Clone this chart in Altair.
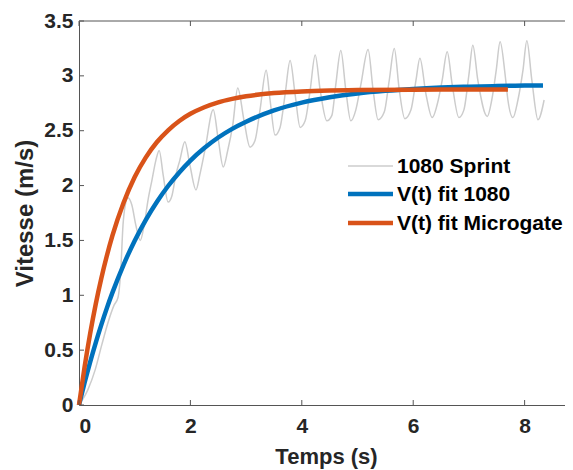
import altair as alt
import pandas as pd

# ---------------- data ----------------
series_names = ["1080 Sprint", "V(t) fit 1080", "V(t) fit Microgate"]
series_colors = ["#cccccc", "#0072BD", "#D95319"]

sprint_t = [0, 0.16, 0.29, 0.41, 0.52, 0.63, 0.70, 0.75, 0.79, 0.83, 0.88, 0.95, 1.02, 1.10,
            1.17, 1.24, 1.31, 1.38, 1.44, 1.51, 1.60, 1.67, 1.74, 1.81, 1.90, 1.99, 2.10, 2.17,
            2.26, 2.41, 2.50, 2.59, 2.67, 2.76, 2.85, 2.96, 3.07, 3.16, 3.25, 3.36, 3.43, 3.52,
            3.61, 3.70, 3.79, 3.88, 3.97, 4.06, 4.15, 4.24, 4.33, 4.45, 4.54, 4.61, 4.70, 4.79,
            4.88, 4.97, 5.06, 5.19, 5.28, 5.37, 5.48, 5.57, 5.66, 5.75, 5.85, 5.96, 6.05, 6.12,
            6.23, 6.34, 6.45, 6.52, 6.61, 6.70, 6.82, 6.91, 7.00, 7.07, 7.16, 7.33, 7.41, 7.49,
            7.56, 7.65, 7.70, 7.79, 7.88, 7.97, 8.04, 8.13, 8.24, 8.35]
sprint_v = [0, 0.14, 0.32, 0.55, 0.75, 0.91, 0.98, 1.23, 1.64, 1.82, 1.89, 1.82, 1.64, 1.50,
            1.64, 1.87, 2.05, 2.23, 2.32, 2.10, 1.85, 1.91, 2.10, 2.23, 2.40, 2.19, 1.96, 2.10,
            2.32, 2.69, 2.42, 2.17, 2.32, 2.55, 2.89, 2.60, 2.35, 2.41, 2.69, 3.05, 2.78, 2.46,
            2.53, 2.83, 3.14, 2.83, 2.53, 2.59, 2.87, 3.19, 2.87, 2.59, 2.64, 2.92, 3.23, 2.87,
            2.59, 2.69, 2.92, 3.24, 2.87, 2.60, 2.67, 2.96, 3.25, 2.87, 2.61, 2.69, 2.96, 3.16,
            2.83, 2.62, 2.78, 2.96, 3.22, 2.92, 2.62, 2.69, 3.01, 3.28, 2.96, 2.63, 2.78, 3.05,
            3.31, 3.01, 2.78, 2.62, 2.78, 3.05, 3.32, 2.96, 2.60, 2.78]

fit1080_t = [0, 0.1, 0.2, 0.3, 0.4, 0.5, 0.6, 0.8, 1.0, 1.2, 1.4, 1.6, 1.8, 2.0, 2.25, 2.5,
             2.75, 3.0, 3.5, 4.0, 4.5, 5.0, 5.5, 6.0, 6.5, 7.0, 7.5, 8.0, 8.33]
fit1080_v = [0, 0.203, 0.391, 0.567, 0.730, 0.883, 1.024, 1.278, 1.498, 1.688, 1.853, 1.996,
             2.120, 2.228, 2.342, 2.438, 2.517, 2.582, 2.685, 2.756, 2.805, 2.840, 2.864, 2.881,
             2.893, 2.901, 2.907, 2.911, 2.913]

fitmg_t = [0, 0.1, 0.2, 0.3, 0.4, 0.5, 0.6, 0.8, 1.0, 1.2, 1.4, 1.6, 1.8, 2.0, 2.25, 2.5,
           2.75, 3.0, 3.5, 4.0, 4.5, 5.0, 6.0, 7.0, 7.7]
fitmg_v = [0, 0.345, 0.650, 0.918, 1.153, 1.360, 1.543, 1.843, 2.078, 2.257, 2.397, 2.504,
           2.589, 2.654, 2.714, 2.759, 2.790, 2.814, 2.843, 2.858, 2.866, 2.870, 2.874, 2.875,
           2.875]

x_ticks = [0, 2, 4, 6, 8]
y_ticks = [0, 0.5, 1, 1.5, 2, 2.5, 3, 3.5]

# ---------------- tables ----------------
df_sprint = pd.DataFrame({"t": sprint_t, "v": sprint_v})
df_1080 = pd.DataFrame({"t": fit1080_t, "v": fit1080_v})
df_mg = pd.DataFrame({"t": fitmg_t, "v": fitmg_v})
df_xt = pd.DataFrame({"t": x_ticks})
df_yt = pd.DataFrame({"v": y_ticks})

W, H = 486, 384
FONT = "Liberation Sans"
AX = "#555555"
TXT = "#262626"

xscale = alt.Scale(domain=[0, 8.725], nice=False, zero=False)
yscale = alt.Scale(domain=[0, 3.5], nice=False, zero=False)

xaxis = alt.Axis(values=x_ticks, title="Temps (s)", grid=False, tickSize=0,
                 domainColor=AX, domainWidth=1, labelFontSize=21, labelFontWeight="bold",
                 labelColor=TXT, labelPadding=10, labelFont=FONT,
                 titleFont=FONT, titleFontSize=22, titleFontWeight="bold", titleColor=TXT,
                 titleX=247, titleY=58, titleBaseline="alphabetic")
yaxis = alt.Axis(values=y_ticks, title="Vitesse (m/s)", grid=False, tickSize=0,
                 domainColor=AX, domainWidth=1, labelFontSize=21, labelFontWeight="bold",
                 labelColor=TXT, labelPadding=6, labelFont=FONT,
                 labelExpr="'' + datum.value",
                 titleFont=FONT, titleFontSize=24, titleFontWeight="bold", titleColor=TXT,
                 titleX=-47, titleBaseline="alphabetic")

X = alt.X("t:Q", scale=xscale, axis=xaxis)
Y = alt.Y("v:Q", scale=yscale, axis=yaxis)

sprint = alt.Chart(df_sprint).mark_line(color=series_colors[0], strokeWidth=1.5,
                                         interpolate="monotone").encode(x=X, y=Y)
fit1080 = alt.Chart(df_1080).mark_line(color=series_colors[1], strokeWidth=4.5,
                                       interpolate="monotone").encode(x=X, y=Y)
fitmg = alt.Chart(df_mg).mark_line(color=series_colors[2], strokeWidth=4.5,
                                   interpolate="monotone").encode(x=X, y=Y)

# inward MATLAB-style ticks and top box line
xt_bottom = alt.Chart(df_xt).mark_rule(color=AX, strokeWidth=1).encode(
    x=X, y=alt.value(H), y2=alt.value(H - 5))
xt_top = alt.Chart(df_xt).mark_rule(color=AX, strokeWidth=1).encode(
    x=X, y=alt.value(0), y2=alt.value(5))
yt_left = alt.Chart(df_yt).mark_rule(color=AX, strokeWidth=1).encode(
    y=Y, x=alt.value(0), x2=alt.value(5))
top_line = alt.Chart(pd.DataFrame({"a": [0]})).mark_rule(color=AX, strokeWidth=1).encode(
    x=alt.value(0), x2=alt.value(W), y=alt.value(0))

# legend (drawn manually)
legend_layers = []
row_y = [145, 173, 202]
row_w = [1.5, 4.5, 4.5]
for name, col, yy, sw in zip(series_names, series_colors, row_y, row_w):
    d = pd.DataFrame({"label": [name]})
    legend_layers.append(
        alt.Chart(d).mark_rule(color=col, strokeWidth=sw).encode(
            x=alt.value(269), x2=alt.value(314), y=alt.value(yy)))
    legend_layers.append(
        alt.Chart(d).mark_text(align="left", baseline="middle", font=FONT, fontSize=21,
                               fontWeight="bold", color="#000000").encode(
            x=alt.value(318), y=alt.value(yy + 1), text="label:N"))

chart = alt.layer(
    sprint, fit1080, fitmg, xt_bottom, xt_top, yt_left, top_line, *legend_layers
).properties(
    width=W, height=H,
    autosize=alt.AutoSizeParams(type="none"),
    padding={"left": 71, "top": 13, "right": 0, "bottom": 65},
    background="white",
).configure_view(stroke=None)

chart.save("out.html", embed_options={"renderer": "svg", "actions": False})
